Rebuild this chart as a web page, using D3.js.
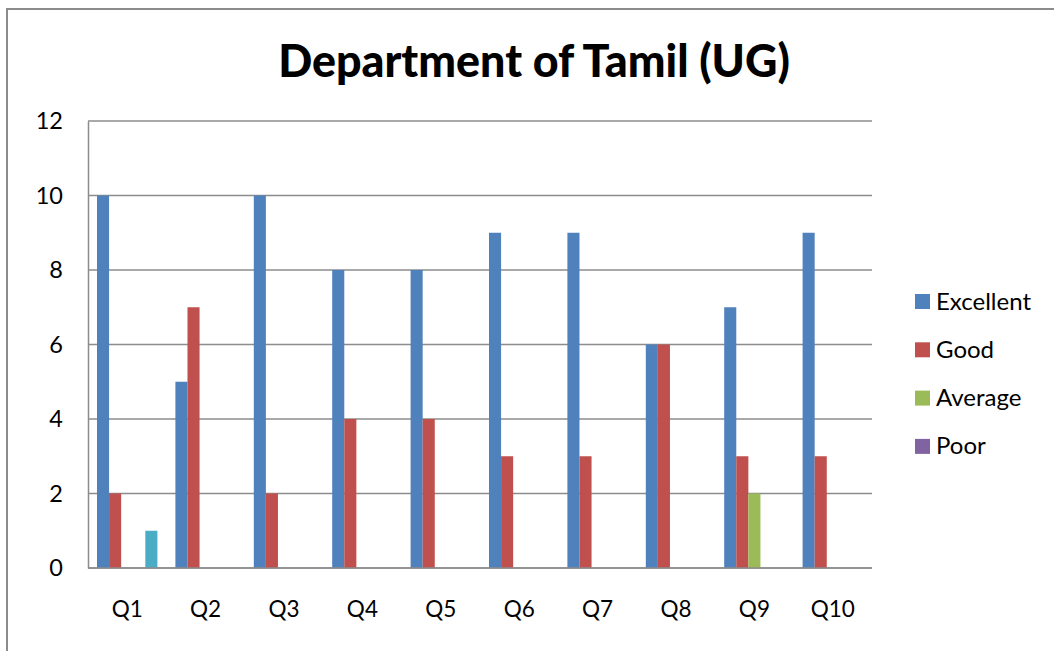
<!DOCTYPE html>
<html>
<head>
<meta charset="utf-8">
<script src="https://cdn.jsdelivr.net/npm/d3@7"></script>
<style>
  body { margin: 0; background: #fff; }
  text { font-family: Lato, "Open Sans", sans-serif; }
</style>
</head>
<body>
<div id="chart"></div>
<script>
// data
var categories = ['Q1', 'Q2', 'Q3', 'Q4', 'Q5', 'Q6', 'Q7', 'Q8', 'Q9', 'Q10'];
var seriesNames = ['Excellent', 'Good', 'Average', 'Poor', ''];
var excellent = [10, 5, 10, 8, 8, 9, 9, 6, 7, 9];
var good = [2, 7, 2, 4, 4, 3, 3, 6, 3, 3];
var average = [0, 0, 0, 0, 0, 0, 0, 0, 2, 0];
var poor = [0, 0, 0, 0, 0, 0, 0, 0, 0, 0];
var extra = [1, 0, 0, 0, 0, 0, 0, 0, 0, 0]; // unnamed 5th series, not in legend
var yTicks = [0, 2, 4, 6, 8, 10, 12];
var colors = ['#4F81BD', '#C0504D', '#9BBB59', '#8064A2', '#4BACC6'];

var allSeries = [excellent, good, average, poor, extra];

var W = 1054, H = 651;
var margin = {top: 121, left: 88, right: 182, bottom: 83};
var innerW = W - margin.left - margin.right;
var innerH = H - margin.top - margin.bottom;

var svg = d3.select('#chart').append('svg')
    .attr('width', W)
    .attr('height', H);

// outer frame
svg.append('rect')
    .attr('x', 7).attr('y', 9)
    .attr('width', W + 10).attr('height', H + 10)
    .attr('fill', 'none')
    .attr('stroke', '#8c8c8c')
    .attr('stroke-width', 2);

// title, stretched to the width seen in the picture
var title = svg.append('text')
    .attr('x', 534)
    .attr('y', 77)
    .attr('text-anchor', 'middle')
    .style('font-size', '40px')
    .style('font-weight', '900')
    .attr('fill', '#000')
    .text('Department of Tamil (UG)');
var tw = title.node().getComputedTextLength();
title.style('font-size', (40 * 512 / tw) + 'px');

var g = svg.append('g')
    .attr('transform', 'translate(' + margin.left + ',' + margin.top + ')');

var x0 = d3.scaleBand().domain(categories).range([0, innerW]);
var x1 = d3.scaleBand().domain(d3.range(allSeries.length))
    .range([9, x0.bandwidth() - 9]);
var y = d3.scaleLinear().domain([0, 12]).range([innerH, 0]);

// gridlines
g.selectAll('.grid')
    .data(yTicks)
    .enter()
    .append('line')
    .attr('x1', 0).attr('x2', innerW)
    .attr('y1', function (d) { return y(d); })
    .attr('y2', function (d) { return y(d); })
    .attr('stroke', '#8c8c8c')
    .attr('stroke-width', 1.5);

// y axis labels
var yAxis = d3.axisLeft(y).tickValues(yTicks).tickSize(0).tickPadding(25);
var ya = g.append('g').call(yAxis);
ya.select('.domain').attr('stroke', '#8c8c8c').attr('stroke-width', 1.5);
ya.selectAll('text')
    .style('font-size', '23.5px')
    .style('font-family', 'Lato, "Open Sans", sans-serif')
    .attr('fill', '#000');

// x axis labels
var xAxis = d3.axisBottom(x0).tickSize(0).tickPadding(33);
var xa = g.append('g')
    .attr('transform', 'translate(0,' + innerH + ')')
    .call(xAxis);
xa.select('.domain').remove();
xa.selectAll('text')
    .style('font-size', '22.5px')
    .style('font-family', 'Lato, "Open Sans", sans-serif')
    .attr('fill', '#000');

// bars
var groups = g.selectAll('.cat')
    .data(categories)
    .enter()
    .append('g')
    .attr('transform', function (d) { return 'translate(' + x0(d) + ',0)'; });

groups.selectAll('rect')
    .data(function (d, i) {
        return allSeries.map(function (s, k) { return {k: k, v: s[i]}; });
    })
    .enter()
    .append('rect')
    .attr('x', function (d) { return x1(d.k); })
    .attr('width', x1.bandwidth())
    .attr('y', function (d) { return y(d.v); })
    .attr('height', function (d) { return innerH - y(d.v); })
    .attr('fill', function (d) { return colors[d.k]; });

// redraw baseline over bars
g.append('line')
    .attr('x1', 0).attr('x2', innerW)
    .attr('y1', innerH).attr('y2', innerH)
    .attr('stroke', '#8c8c8c')
    .attr('stroke-width', 1.5);

// legend
var legend = svg.append('g').attr('transform', 'translate(915,294)');
var items = legend.selectAll('g')
    .data(seriesNames.slice(0, 4))
    .enter()
    .append('g')
    .attr('transform', function (d, i) { return 'translate(0,' + (i * 48.3) + ')'; });
items.append('rect')
    .attr('width', 15).attr('height', 15)
    .attr('fill', function (d, i) { return colors[i]; });
items.append('text')
    .attr('x', 21)
    .attr('y', 15.5)
    .style('font-size', '24px')
    .attr('fill', '#000')
    .text(function (d) { return d; });
</script>
</body>
</html>
